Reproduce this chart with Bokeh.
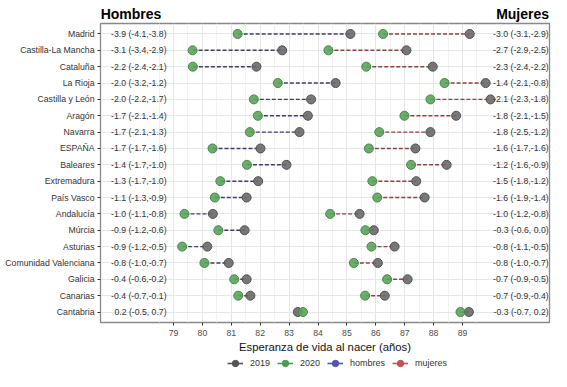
from bokeh.plotting import figure
from bokeh.layouts import column
from bokeh.models import (Range1d, FactorRange, FixedTicker, Legend, LinearAxis,
                          LegendItem, ColumnDataSource)
from bokeh.embed import file_html
from bokeh.resources import INLINE
from bokeh.core.properties import value

regions = ["Madrid", "Castilla-La Mancha", "Cataluña", "La Rioja", "Castilla y León",
           "Aragón", "Navarra", "ESPAÑA", "Baleares", "Extremadura", "País Vasco",
           "Andalucía", "Múrcia", "Asturias", "Comunidad Valenciana", "Galicia",
           "Canarias", "Cantabria"]
h2019 = [85.12, 82.76, 81.87, 84.61, 83.76, 83.65, 83.36, 82.01, 82.91, 81.93, 81.53,
         80.36, 81.46, 80.17, 80.91, 81.53, 81.66, 83.30]
h2020 = [81.22, 79.66, 79.67, 82.61, 81.78, 81.92, 81.64, 80.35, 81.54, 80.62, 80.43,
         79.38, 80.55, 79.30, 80.07, 81.10, 81.24, 83.48]
m2019 = [89.25, 87.06, 87.97, 89.80, 89.97, 88.78, 87.89, 87.37, 88.45, 87.40, 87.69,
         85.44, 85.93, 86.65, 86.07, 87.10, 86.31, 89.22]
m2020 = [86.25, 84.36, 85.67, 88.38, 87.89, 86.99, 86.12, 85.76, 87.22, 85.88, 86.05,
         84.42, 85.64, 85.85, 85.24, 86.39, 85.63, 88.93]
h_lab = ["-3.9 (-4.1,-3.8)", "-3.1 (-3.4,-2.9)", "-2.2 (-2.4,-2.1)", "-2.0 (-3.2,-1.2)",
         "-2.0 (-2.2,-1.7)", "-1.7 (-2.1,-1.4)", "-1.7 (-2.1,-1.3)", "-1.7 (-1.7,-1.6)",
         "-1.4 (-1.7,-1.0)", "-1.3 (-1.7,-1.0)", "-1.1 (-1.3,-0.9)", "-1.0 (-1.1,-0.8)",
         "-0.9 (-1.2,-0.6)", "-0.9 (-1.2,-0.5)", "-0.8 (-1.0,-0.7)", "-0.4 (-0.6,-0.2)",
         "-0.4 (-0.7,-0.1)", "0.2 (-0.5, 0.7)"]
m_lab = ["-3.0 (-3.1,-2.9)", "-2.7 (-2.9,-2.5)", "-2.3 (-2.4,-2.2)", "-1.4 (-2.1,-0.8)",
         "-2.1 (-2.3,-1.8)", "-1.8 (-2.1,-1.5)", "-1.8 (-2.5,-1.2)", "-1.6 (-1.7,-1.6)",
         "-1.2 (-1.6,-0.9)", "-1.5 (-1.8,-1.2)", "-1.6 (-1.9,-1.4)", "-1.0 (-1.2,-0.8)",
         "-0.3 (-0.6, 0.0)", "-0.8 (-1.1,-0.5)", "-0.8 (-1.0,-0.7)", "-0.7 (-0.9,-0.5)",
         "-0.7 (-0.9,-0.4)", "-0.3 (-0.7, 0.2)"]
x_ticks = [79, 80, 81, 82, 83, 84, 85, 86, 87, 88, 89]
x_minor = [78.5, 79.5, 80.5, 81.5, 82.5, 83.5, 84.5, 85.5, 86.5, 87.5, 88.5, 89.5]
panel_titles = ["Hombres", "Mujeres"]
legend_labels = ["2019", "2020", "hombres", "mujeres"]

FONT = "Liberation Sans"
GRAY_F, GRAY_L = "#696969", "#505050"
GREEN_F, GREEN_L = "#5ca35c", "#458845"
H_LINE, M_LINE = "#3d3d68", "#8a4343"

src = ColumnDataSource(dict(region=regions, h2019=h2019, h2020=h2020,
                            m2019=m2019, m2020=m2020, h_lab=h_lab, m_lab=m_lab))

W = 551
H_MAIN, H_LEG = 355, 16
MB_L, MB_R = 100, 2
X0, X1 = 76.474, 92.01

p = figure(width=W, height=H_MAIN, output_backend="svg", toolbar_location=None,
           x_range=Range1d(X0, X1),
           y_range=FactorRange(factors=list(reversed(regions)), range_padding=0.14,
                               range_padding_units="absolute"),
           min_border_left=MB_L, min_border_right=MB_R, min_border_top=23,
           min_border_bottom=33)
p.background_fill_color = "white"
p.border_fill_color = "white"
p.outline_line_color = "#888888"
p.outline_line_width = 1.3

p.xaxis.ticker = FixedTicker(ticks=x_ticks, minor_ticks=x_minor)
p.xgrid.grid_line_color = "#e6e6e6"
p.xgrid.minor_grid_line_color = "#f2f2f2"
p.ygrid.grid_line_color = "#e6e6e6"

for ax in (p.xaxis[0], p.yaxis[0]):
    ax.axis_line_color = None
    ax.major_tick_out = 3
    ax.major_tick_in = 0
    ax.major_tick_line_color = "#333333"
    ax.minor_tick_line_color = None
    ax.major_label_text_font = FONT
    ax.major_label_text_font_size = "8.7px"
    ax.major_label_text_color = "#333333"
    ax.major_label_standoff = 3

p.xaxis.axis_label = "Esperanza de vida al nacer (años)"
p.xaxis.axis_label_text_font = FONT
p.xaxis.axis_label_text_font_size = "11.3px"
p.xaxis.axis_label_text_font_style = "normal"
p.xaxis.axis_label_text_color = "#111111"
p.xaxis.axis_label_standoff = 2
p.xaxis.major_label_text_color = "#4d4d4d"

# panel titles as labels of an axis above the frame
t_pos = [77.53, 91.08]
top = LinearAxis(ticker=FixedTicker(ticks=t_pos, minor_ticks=[]),
                 major_label_overrides={t_pos[0]: panel_titles[0], t_pos[1]: panel_titles[1]},
                 axis_line_color=None, major_tick_line_color=None,
                 minor_tick_line_color=None, major_tick_out=0, major_tick_in=0,
                 major_label_standoff=2, major_label_text_font=FONT,
                 major_label_text_font_size="14px", major_label_text_font_style="bold",
                 major_label_text_color="black")
p.add_layout(top, "above")

p.segment(x0="h2020", y0="region", x1="h2019", y1="region", source=src,
          line_color=H_LINE, line_width=1.4, line_dash="4 2")
p.segment(x0="m2020", y0="region", x1="m2019", y1="region", source=src,
          line_color=M_LINE, line_width=1.4, line_dash="4 2")

for col in ("h2019", "m2019"):
    p.scatter(x=col, y="region", source=src, size=9, fill_color=GRAY_F,
              line_color=GRAY_L, fill_alpha=0.9)
for col in ("h2020", "m2020"):
    p.scatter(x=col, y="region", source=src, size=9, fill_color=GREEN_F,
              line_color=GREEN_L, fill_alpha=0.9)

p.text(x=78.76, y="region", text="h_lab", source=src, text_align="right",
       text_baseline="middle", text_font=value(FONT), text_font_size="8.7px",
       text_color="#333333")
p.text(x=91.98, y="region", text="m_lab", source=src, text_align="right",
       text_baseline="middle", text_font=value(FONT), text_font_size="8.7px",
       text_color="#333333")

# legend in its own strip below the chart (same borders so frames align)
pl = figure(width=W, height=H_LEG, output_backend="svg", toolbar_location=None,
            x_range=Range1d(0, 1), y_range=Range1d(0, 1),
            x_axis_type=None, y_axis_type=None,
            min_border_left=MB_L, min_border_right=MB_R, min_border_top=0,
            min_border_bottom=0)
pl.outline_line_color = None
pl.grid.visible = False
pl.background_fill_color = "white"
pl.border_fill_color = "white"

key_colors = ["#555555", "#4e9a4e", "#5555aa", "#b85555"]
items = []
for lab, c in zip(legend_labels, key_colors):
    dummy = ColumnDataSource(dict(x=[float("nan")], y=[float("nan")]))
    rl = pl.line(x="x", y="y", source=dummy, line_color=c, line_width=1.6)
    rs = pl.scatter(x="x", y="y", source=dummy, size=8, fill_color=c, line_color=c)
    items.append(LegendItem(label=lab, renderers=[rl, rs]))

leg = Legend(items=items, orientation="horizontal", location=(127, 0),
             border_line_color=None, background_fill_alpha=0, padding=0, margin=0,
             spacing=7, label_standoff=7, glyph_width=16, glyph_height=16,
             label_height=16, label_text_font=FONT, label_text_font_size="9px",
             label_text_color="#333333")
pl.add_layout(leg, "center")

layout = column(p, pl, spacing=0)
open("out.html", "w").write(file_html(layout, INLINE))
